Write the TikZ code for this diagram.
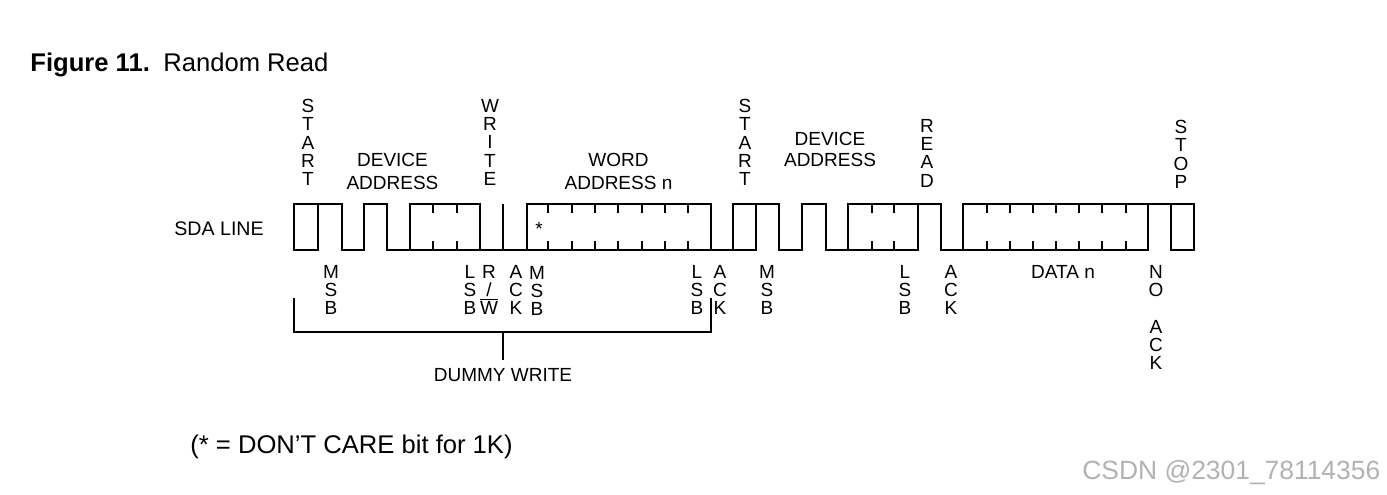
\documentclass[tikz,border=0pt]{standalone}
\usepackage{fontspec}
\setmainfont{Liberation Sans}
\begin{document}
\begin{tikzpicture}[x=0.5pt,y=-0.5pt,
  wave/.style={line width=1.2pt, line join=miter, line cap=butt},
  brk/.style={line width=1.2pt, line join=miter},
  vlab/.style={font=\fontsize{9.5}{9.1}\selectfont, align=center, inner sep=0pt, anchor=north},
  hlab/.style={font=\fontsize{9.5}{11.5}\selectfont, align=center, inner sep=0pt, anchor=north},
  big/.style={font=\fontsize{12.8}{15}\selectfont, inner sep=0pt, anchor=base west}]
\useasboundingbox (0,0) rectangle (1387,494);
% title
\node[big] (fig) at (30,71) {\textbf{Figure 11.}};
\node[big] (title) at (163,71) {Random Read};
% SDA line label
\node[font=\fontsize{9.8}{12}\selectfont, inner sep=0pt, anchor=west] (sda) at (174,229) {SDA LINE};
% waveform
\draw[wave] (294,204) rectangle (318,250);
\draw[wave] (318,204) -- (342,204) -- (342,250) -- (364,250) -- (364,204) -- (387,204) -- (387,250) -- (410,250);
\draw[wave] (410,204) rectangle (480,250);
\foreach \x in {433,457} {\draw[wave] (\x,204) -- ++(0,9) (\x,250) -- ++(0,-9);}
\draw[wave] (480,250) -- (527,250);
\draw[wave] (503,204) -- (503,250);
\draw[wave] (527,204) rectangle (711,250);
\foreach \x in {548,572,595,618,642,665,688} {\draw[wave] (\x,204) -- ++(0,9) (\x,250) -- ++(0,-9);}
\node[font=\fontsize{9.5}{11}\selectfont, inner sep=0pt] (star) at (539,229) {*};
\draw[wave] (711,250) -- (733,250);
\draw[wave] (733,204) rectangle (756,250);
\draw[wave] (756,204) -- (779,204) -- (779,250) -- (802,250) -- (802,204) -- (826,204) -- (826,250) -- (848,250);
\draw[wave] (848,204) rectangle (918,250);
\foreach \x in {872,894} {\draw[wave] (\x,204) -- ++(0,9) (\x,250) -- ++(0,-9);}
\draw[wave] (918,204) -- (941,204) -- (941,250) -- (963,250);
\draw[wave] (963,204) rectangle (1148,250);
\foreach \x in {987,1010,1033,1056,1079,1102,1126} {\draw[wave] (\x,204) -- ++(0,9) (\x,250) -- ++(0,-9);}
\draw[wave] (1148,204) -- (1171,204);
\draw[wave] (1171,204) rectangle (1194,250);
% top labels
\node[vlab] (start1) at (308,99) {S\\T\\A\\R\\T};
\node[hlab] (dev1) at (392.5,153) {DEVICE\\ADDRESS};
\node[vlab] (write) at (490,99) {W\\R\\I\\T\\E};
\node[hlab] (word) at (618.5,153) {WORD\\ADDRESS n};
\node[vlab] (start2) at (745,99) {S\\T\\A\\R\\T};
\node[font=\fontsize{9.5}{10.5}\selectfont, align=center, inner sep=0pt, anchor=north] (dev2) at (830,132) {DEVICE\\ADDRESS};
\node[vlab] (read) at (927,119) {R\\E\\A\\D};
\node[vlab] (stop) at (1181,120) {S\\T\\O\\P};
% bottom labels
\node[vlab] (msb1) at (331,265) {M\\S\\B};
\node[vlab] (lsb1) at (470,265) {L\\S\\B};
\node[vlab] (rw) at (489,265) {R\\/\\\smash{$\overline{\hbox{W}}$}};
\node[vlab] (ack1) at (516,265) {A\\C\\K};
\node[vlab] (msb2) at (537,266) {M\\S\\B};
\node[vlab] (lsb2) at (697,265) {L\\S\\B};
\node[vlab] (ack2) at (720,265) {A\\C\\K};
\node[vlab] (msb3) at (767,265) {M\\S\\B};
\node[vlab] (lsb3) at (905,265) {L\\S\\B};
\node[vlab] (ack3) at (951,265) {A\\C\\K};
\node[hlab] (data) at (1063,265) {DATA n};
\node[vlab] (noack) at (1156,265) {N\\O\\~\\A\\C\\K};
% dummy write bracket
\coordinate (bl) at (294,298);
\coordinate (br) at (711,298);
\coordinate (bm) at (503,332);
\node[hlab] (dw) at (503,368) {DUMMY WRITE};
\draw[brk] (bl) -- (bl |- bm) -- (br |- bm) -- (br);
\draw[brk] (bm) -- ([yshift=4pt]dw.north);
% footnote
\node[big] (note) at (190,453) {(* = DON’T CARE bit for 1K)};
\node[big, font=\fontsize{13.2}{15}\selectfont, text=black!30] (wm) at (1082,479) {CSDN @2301\_78114356};
\end{tikzpicture}
\end{document}
